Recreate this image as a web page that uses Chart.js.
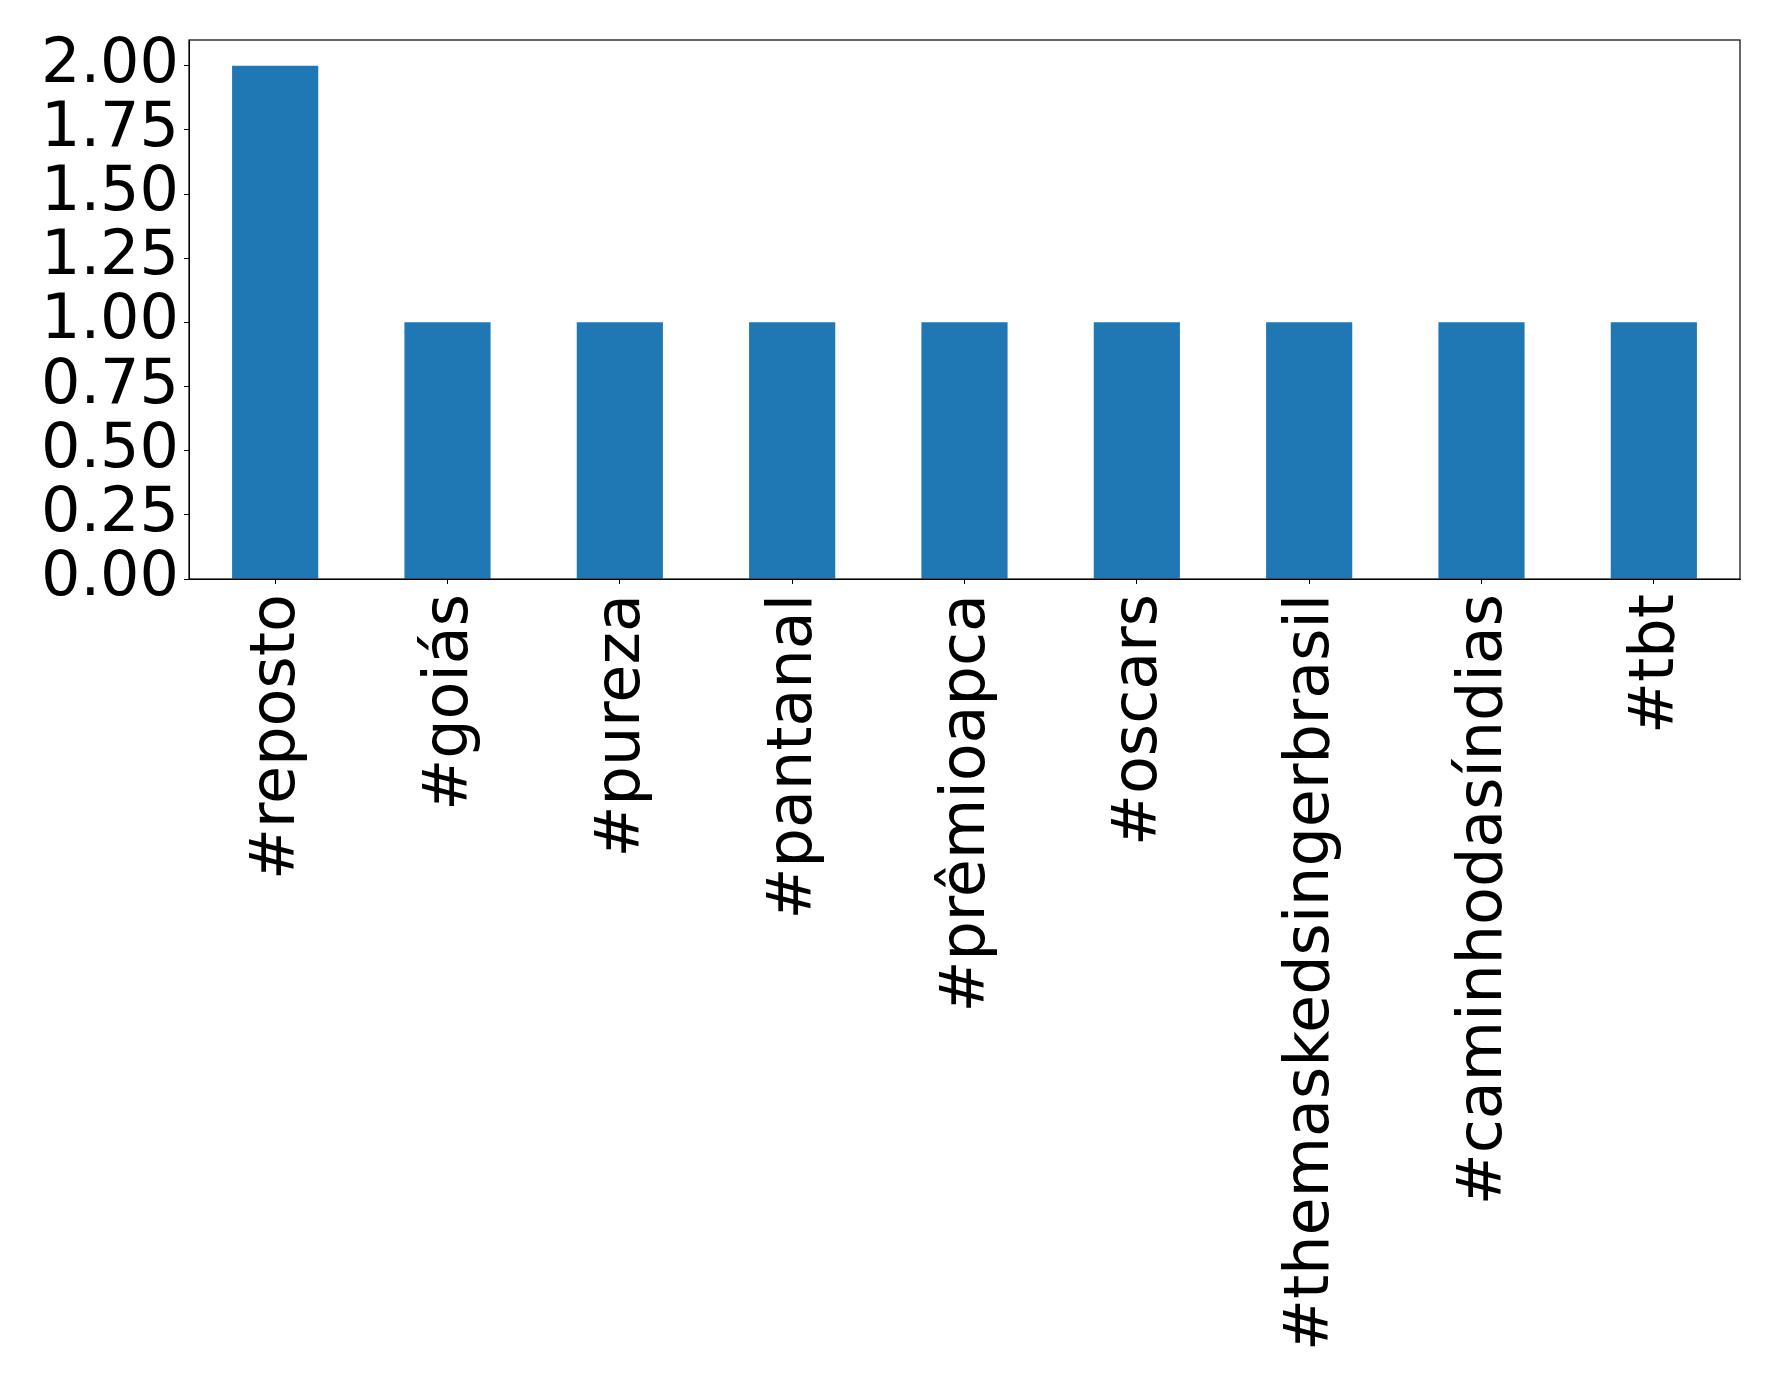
<!DOCTYPE html>
<html>
<head>
<meta charset="utf-8">
<title>Hashtags</title>
<script src="https://cdn.jsdelivr.net/npm/chart.js@4.4.1/dist/chart.umd.min.js"></script>
<style>
  html, body { margin: 0; padding: 0; background: #ffffff; }
  #wrap { width: 1778px; height: 1391px; position: relative; }
</style>
</head>
<body>
<div id="wrap"><canvas id="chart"></canvas></div>
<script>
/* ===== data ===== */
const hashtags = [
    "#reposto", "#goiás", "#pureza", "#pantanal", "#prêmioapca",
    "#oscars", "#themaskedsingerbrasil", "#caminhodasíndias", "#tbt"
];
const counts = [2, 1, 1, 1, 1, 1, 1, 1, 1];
const yTickValues = [0, 0.25, 0.5, 0.75, 1.0, 1.25, 1.5, 1.75, 2.0];
const yMax = 2.1;

/* ===== layout (plot box in page pixels) ===== */
const PLOT = { left: 189, top: 40, right: 1740, bottom: 579 };
const W = 1778, H = 1391;
const FONT = { family: "'DejaVu Sans', sans-serif", size: 62 };

/* full frame round the plot, like the reference */
const frame = {
    id: "frame",
    afterDatasetsDraw(chart) {
        const a = chart.chartArea;
        const ctx = chart.ctx;
        ctx.save();
        ctx.strokeStyle = "#000000";
        ctx.lineWidth = 1.2;
        ctx.strokeRect(a.left, a.top, a.right - a.left, a.bottom - a.top);
        ctx.restore();
    }
};

new Chart(document.getElementById("chart"), {
    type: "bar",
    data: {
        labels: hashtags,
        datasets: [{
            data: counts,
            backgroundColor: "#1f77b4",
            borderWidth: 0,
            categoryPercentage: 1.0,
            barPercentage: 0.5
        }]
    },
    options: {
        responsive: true,
        maintainAspectRatio: false,
        animation: false,
        layout: {
            padding: { left: 0, top: 0, right: W - PLOT.right, bottom: 0 }
        },
        plugins: {
            legend: { display: false },
            tooltip: { enabled: false }
        },
        scales: {
            x: {
                grid: {
                    display: true,
                    offset: false,
                    drawOnChartArea: false,
                    drawTicks: true,
                    tickLength: 5,
                    tickColor: "#000000"
                },
                border: { display: true, color: "#000000", width: 1 },
                ticks: {
                    color: "#000000",
                    font: FONT,
                    minRotation: 90,
                    maxRotation: 90,
                    autoSkip: false,
                    padding: 10,
                    labelOffset: 3
                },
                afterFit(scale) { scale.height = H - PLOT.bottom; }
            },
            y: {
                min: 0,
                max: yMax,
                grid: {
                    display: true,
                    drawOnChartArea: false,
                    drawTicks: true,
                    tickLength: 5,
                    tickColor: "#000000"
                },
                border: { display: true, color: "#000000", width: 1 },
                ticks: {
                    color: "#000000",
                    font: FONT,
                    padding: 5,
                    autoSkip: false,
                    callback: v => Number(v).toFixed(2)
                },
                afterBuildTicks(scale) {
                    scale.ticks = yTickValues.map(v => ({ value: v }));
                },
                afterFit(scale) {
                    scale.width = PLOT.left;
                    scale.paddingTop = PLOT.top;
                }
            }
        }
    },
    plugins: [frame]
});
</script>
</body>
</html>
